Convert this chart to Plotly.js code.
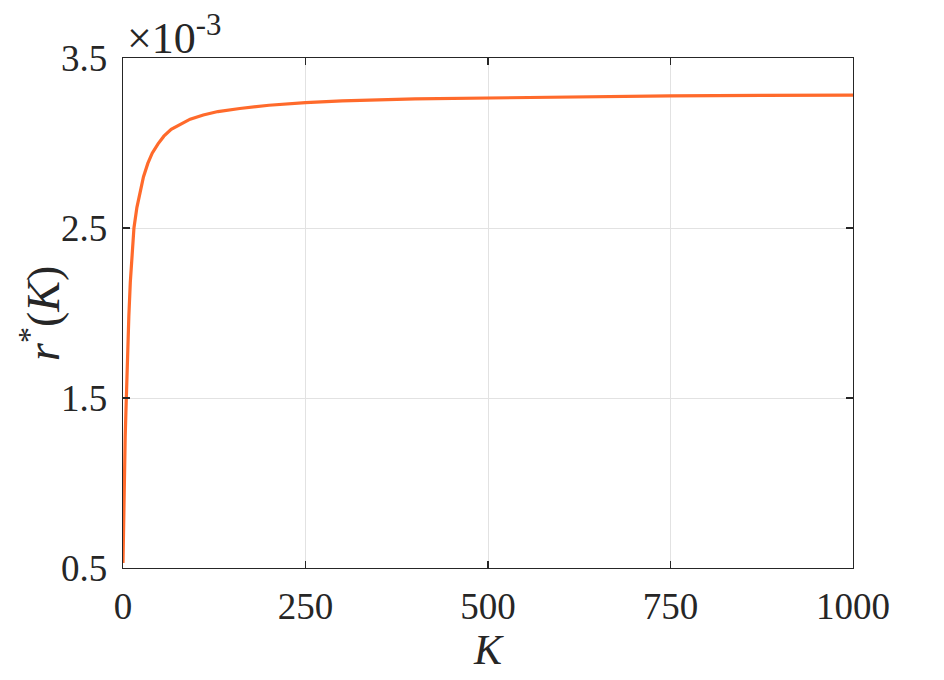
<!DOCTYPE html>
<html>
<head>
<meta charset="utf-8">
<script src="https://cdn.plot.ly/plotly-3.0.1.min.js"></script>
<style>html,body{margin:0;padding:0;background:#fff;}#chart{width:944px;height:680px;}</style>
</head>
<body>
<div id="chart"></div>
<script>
// K values (x axis)
var kValues = [0, 1, 2, 3, 4, 5, 6, 8, 10, 12, 15, 19, 23, 28, 34, 40, 48, 56, 66, 78, 92, 110, 130, 160, 200, 250, 300, 400, 500, 625, 750, 875, 1000];
// r*(K) in units of 1e-3
var rStarE3 = [0.53, 0.90, 1.10, 1.27, 1.42, 1.58, 1.72, 1.98, 2.18, 2.33, 2.50, 2.62, 2.706, 2.80, 2.88, 2.94, 2.995, 3.04, 3.08, 3.11, 3.14, 3.165, 3.185, 3.203, 3.222, 3.238, 3.248, 3.260, 3.266, 3.272, 3.277, 3.280, 3.282];
var xTicks = [0, 250, 500, 750, 1000];
var yTicks = [0.5, 1.5, 2.5, 3.5];
var yTickText = ['0.5', '1.5', '2.5', '3.5'];

var serif = '"Liberation Serif", "Times New Roman", Times, serif';
var trace = {
  x: kValues, y: rStarE3, type: 'scatter', mode: 'lines',
  line: {color: '#ff6a2b', width: 3.2},
  hoverinfo: 'skip'
};
var layout = {
  width: 944, height: 680,
  margin: {l: 123, r: 91, t: 58, b: 112},
  paper_bgcolor: '#fff', plot_bgcolor: '#fff',
  showlegend: false,
  font: {family: serif, color: '#262626'},
  xaxis: {
    range: [0, 1000], tickvals: xTicks, ticktext: xTicks.map(String),
    ticks: 'inside', ticklen: 7, tickwidth: 1.2, tickcolor: '#262626',
    showline: true, linecolor: '#262626', linewidth: 1.3, mirror: 'ticks',
    showgrid: true, gridcolor: '#e2e2e2', gridwidth: 1, zeroline: false,
    tickfont: {family: serif, size: 37, color: '#262626'},
    ticklabelstandoff: 5,
    title: {text: '<i>K</i>', font: {family: serif, size: 42, color: '#262626'}, standoff: 1}
  },
  yaxis: {
    range: [0.5, 3.5], tickvals: yTicks, ticktext: yTickText,
    ticks: 'inside', ticklen: 7, tickwidth: 1.2, tickcolor: '#262626',
    showline: true, linecolor: '#262626', linewidth: 1.3, mirror: 'ticks',
    showgrid: true, gridcolor: '#e2e2e2', gridwidth: 1, zeroline: false,
    tickfont: {family: serif, size: 37, color: '#262626'},
    ticklabelstandoff: 7
  },
  annotations: [{
    xref: 'paper', yref: 'paper', x: 0, y: 1, xanchor: 'left', yanchor: 'bottom',
    xshift: 2, yshift: -7, showarrow: false,
    text: '×10<sup>-3</sup>', font: {family: serif, size: 44, color: '#262626'}
  }, {
    xref: 'paper', yref: 'paper', x: -0.1137, y: 0.5, xanchor: 'center', yanchor: 'middle',
    textangle: -90, showarrow: false,
    text: '<i>r</i><sup>*</sup>(<i>K</i>)', font: {family: serif, size: 46, color: '#262626'}
  }]
};
Plotly.newPlot('chart', [trace], layout, {displayModeBar: false, staticPlot: true});
</script>
</body>
</html>
